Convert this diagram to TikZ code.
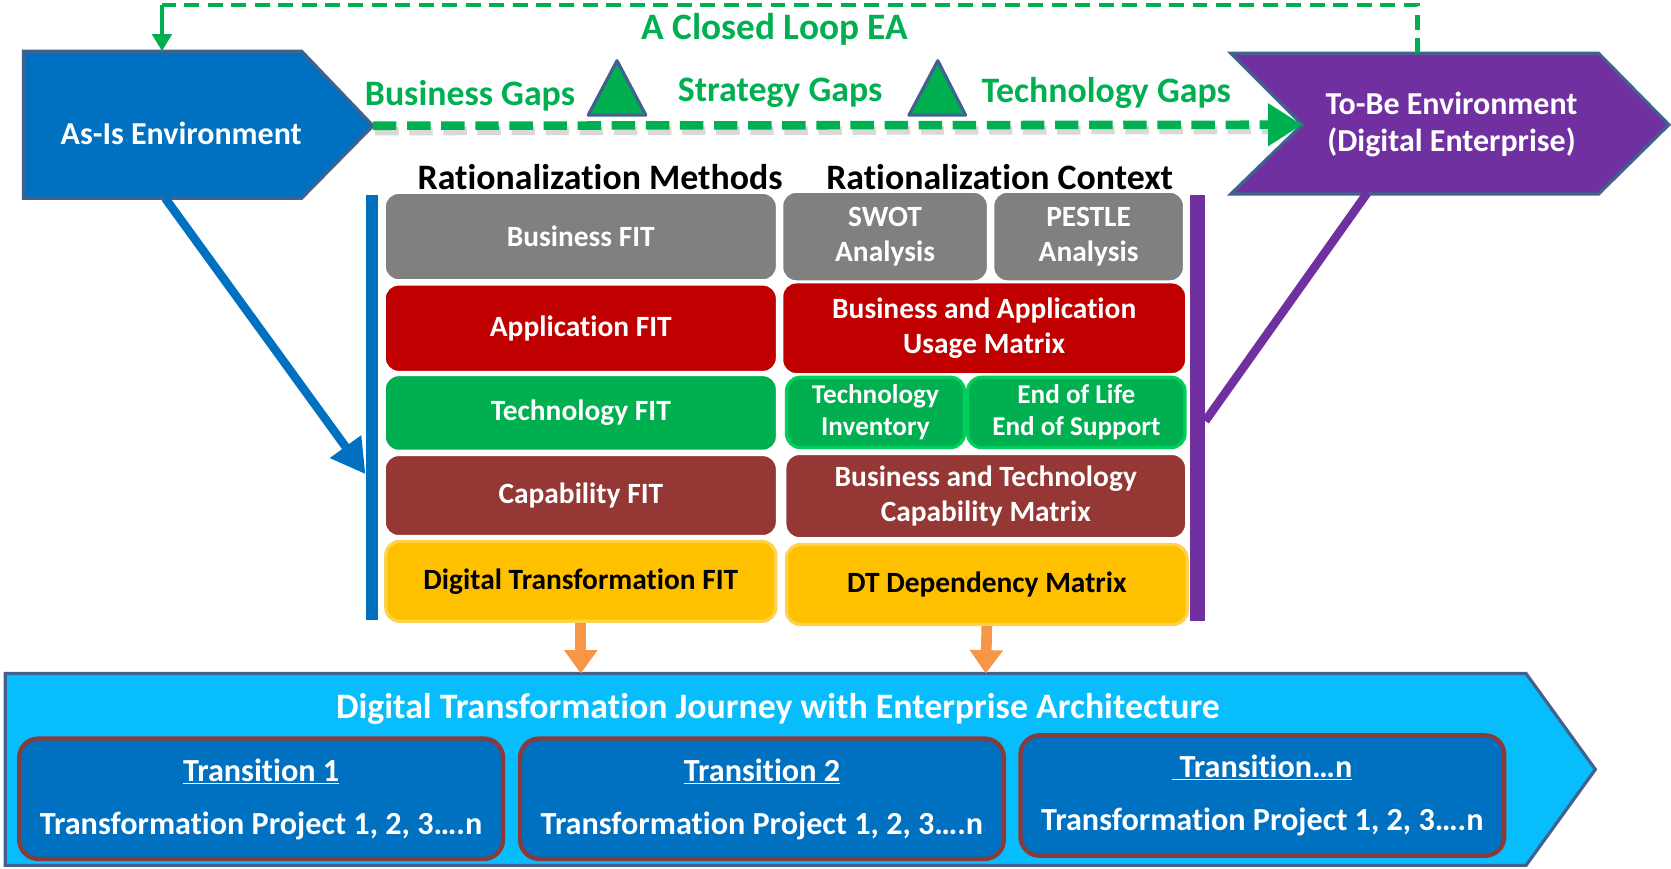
\documentclass[tikz,border=0pt]{standalone}
\usepackage{fontspec}
\setmainfont{Carlito}[Ligatures=NoCommon]
\usetikzlibrary{arrows.meta}
\definecolor{asblue}{HTML}{0070C0}
\definecolor{edgeblue}{HTML}{41618F}
\definecolor{tobe}{HTML}{7030A0}
\definecolor{gapgreen}{HTML}{00B050}
\definecolor{bgray}{HTML}{808080}
\definecolor{bred}{HTML}{C00000}
\definecolor{bbrown}{HTML}{953735}
\definecolor{byellow}{HTML}{FFC000}
\definecolor{yelline}{HTML}{FFD24D}
\definecolor{brgreen}{HTML}{00D05A}
\definecolor{journey}{HTML}{08BDFC}
\definecolor{tborder}{HTML}{8B3A3A}
\definecolor{orng}{HTML}{F79646}
\newcommand\fsz[2]{\fontsize{#1}{#2}\selectfont}
\tikzset{
  cell/.style={rounded corners=13pt, draw=white, line width=2pt, text=white,
    font=\fsz{27.6}{33}\bfseries, align=center, inner sep=0pt},
  chev/.style={draw=edgeblue, line width=3pt, line join=miter},
  lbl/.style={font=\fsz{30.2}{32}\bfseries, text=white, align=center, inner sep=0pt},
  gap/.style={font=\fsz{33.6}{34}\bfseries, text=gapgreen, inner sep=0pt},
  head/.style={font=\fsz{33.6}{34}\bfseries, text=black, inner sep=0pt},
  tri/.style={fill=gapgreen, draw=edgeblue, line width=3pt, line join=round},
  trans/.style={rounded corners=18pt, draw=tborder, line width=4pt, fill=asblue,
    minimum width=454pt, minimum height=113pt, inner sep=0pt},
  orarrow/.style={draw=orng, line width=10pt, -{Triangle[width=30pt,length=22pt]}},
}
\begin{document}
\begin{tikzpicture}[x=1pt,y=-1pt]
\useasboundingbox (0,0) rectangle (1568,815);

% ---- As-Is chevron
\coordinate (asis-tip) at (350,118);
\coordinate (asis-top) at (152,48);
\coordinate (asis-bot) at (155,186);
\filldraw[chev, fill=asblue] (22,48) -- (283,48) -- (asis-tip) -- (283,186) -- (22,186) -- cycle;
\node[lbl, font=\fsz{30}{32}\bfseries] (asis) at (170,125) {As-Is Environment};

% ---- To-Be chevron
\coordinate (tobe-notch) at (1222,117);
\coordinate (tobe-top) at (1330,50);
\coordinate (tobe-bot) at (1283,181);
\filldraw[chev, fill=tobe] (1155,50) -- (1500,50) -- (1566,117) -- (1500,182) -- (1155,182) -- (tobe-notch) -- cycle;
\node[lbl, font=\fsz{30}{35}\bfseries] (tobe) at (1362,117) {To-Be Environment\\(Digital Enterprise)};

% ---- closed loop
\coordinate (loopL) at (152,5);
\draw[gapgreen, line width=4pt, dash pattern=on 14pt off 8pt] (tobe-top) |- (loopL);
\draw[gapgreen, line width=4pt, -{Triangle[width=18pt,length=16pt]}] (loopL) -- (asis-top);
\node[font=\fsz{35}{36}\bfseries, text=gapgreen, inner sep=0pt] (loop) at (727,28) {A Closed Loop EA};

% ---- gaps arrow
\draw[black!15, line width=8pt, dash pattern=on 22pt off 10pt] ([shift={(2,5)}]asis-tip) -- ([shift={(-32,5)}]tobe-notch);
\draw[gapgreen, line width=8pt, dash pattern=on 22pt off 10pt, -{Triangle[width=38pt,length=32pt]}] (asis-tip) -- (tobe-notch);
\node[gap] (bgaps) at (441,90) {Business Gaps};
\node[gap] (sgaps) at (732,87) {Strategy Gaps};
\node[gap] (tgaps) at (1038,87) {Technology Gaps};
\filldraw[tri] (552,108) -- (579,57) -- (606,108) -- cycle;
\filldraw[tri] (853,108) -- (880,57) -- (906,108) -- cycle;

% ---- headers
\node[head] (hm) at (563,166) {Rationalization Methods};
\node[head] (hc) at (938,166) {Rationalization Context};

% ---- side bars
\fill[asblue] (343,183) rectangle (355,582);
\coordinate (bluebar) at (343,445);
\fill[tobe] (1117,183) rectangle (1131,583);
\coordinate (purplebar) at (1131,395);
\draw[asblue, line width=8pt, -{Triangle[width=34pt,length=32pt]}] (asis-bot) -- (bluebar);
\draw[tobe, line width=8pt] (tobe-bot) -- (purplebar);

% ---- left column
\node[cell, fill=bgray, minimum width=368pt, minimum height=82pt] (bfit) at (545,222) {Business FIT};
\node[cell, fill=bred, minimum width=368pt, minimum height=82pt] (afit) at (545,308) {Application FIT};
\node[cell, fill=gapgreen, minimum width=368pt, minimum height=71pt] (tfit) at (545,387.5) {Technology FIT};
\node[cell, fill=bbrown, minimum width=368pt, minimum height=76pt] (cfit) at (545,465) {Capability FIT};
\node[cell, fill=byellow, draw=yelline, line width=3pt, text=black, minimum width=366pt, minimum height=75pt] (dfit) at (545,545.5) {Digital Transformation FIT};

% ---- right column
\node[cell, fill=bgray, minimum width=193pt, minimum height=84pt] (swot) at (830.5,222) {SWOT\\Analysis};
\node[cell, fill=bgray, minimum width=179pt, minimum height=84pt] (pestle) at (1021.5,222) {PESTLE\\Analysis};
\node[cell, fill=bred, minimum width=379pt, minimum height=86pt] (bau) at (923.5,308) {Business and Application\\Usage Matrix};
\node[cell, fill=gapgreen, draw=brgreen, line width=3pt, font=\fsz{25.5}{30}\bfseries, minimum width=167pt, minimum height=66pt] (tinv) at (821.5,387) {Technology\\Inventory};
\node[cell, fill=gapgreen, draw=brgreen, line width=3pt, font=\fsz{25.5}{30}\bfseries, minimum width=204pt, minimum height=66pt] (eol) at (1010,387) {End of Life\\End of Support};
\node[cell, fill=bbrown, minimum width=376pt, minimum height=79pt] (btc) at (925,465.5) {Business and Technology\\Capability Matrix};
\node[cell, fill=byellow, draw=yelline, line width=3pt, text=black, minimum width=376pt, minimum height=75pt] (dtd) at (926,548.5) {DT Dependency Matrix};

% ---- journey chevron
\coordinate (jtop1) at (545,632);
\coordinate (jtop2) at (925,632);
\filldraw[chev, fill=journey] (5,632) -- (1432,632) -- (1497,722) -- (1432,812) -- (5,812) -- cycle;
\node[lbl, font=\fsz{33.6}{34}\bfseries] (journeyt) at (730,665) {Digital Transformation Journey with Enterprise Architecture};

\draw[orarrow] (dfit.south) -- (jtop1);
\draw[orarrow] (dtd.south) -- (jtop2);

% ---- transitions
\node[trans] (t1) at (245,749.5) {};
\node[lbl] (t1a) at (245,724) {\underline{Transition 1}};
\node[lbl] (t1b) at (245,775) {Transformation Project 1, 2, 3….n};
\node[trans] (t2) at (715,749.5) {};
\node[lbl] (t2a) at (715,724) {\underline{Transition 2}};
\node[lbl] (t2b) at (715,775) {Transformation Project 1, 2, 3….n};
\node[trans] (t3) at (1184.5,746.5) {};
\node[lbl] (t3a) at (1184.5,720) {\underline{~Transition…n}};
\node[lbl] (t3b) at (1184.5,771) {Transformation Project 1, 2, 3….n};
\end{tikzpicture}
\end{document}
